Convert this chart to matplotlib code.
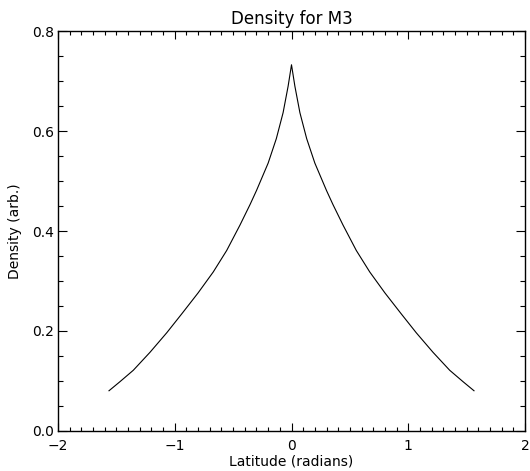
import matplotlib
matplotlib.use("Agg")
import matplotlib.pyplot as plt
from matplotlib.ticker import MultipleLocator

# values (left half, then right half)
lat_left = [-1.563, -1.47, -1.355, -1.212, -1.069, -0.94, -0.80, -0.67, -0.555,
            -0.441, -0.355, -0.30, -0.20, -0.13, -0.072, -0.029, 0.0]
dens_left = [0.080, 0.098, 0.121, 0.157, 0.196, 0.234, 0.276, 0.318, 0.361,
             0.412, 0.453, 0.481, 0.536, 0.585, 0.637, 0.690, 0.733]
lat_right = [0.029, 0.072, 0.13, 0.20, 0.30, 0.355, 0.441, 0.555,
             0.67, 0.80, 0.94, 1.069, 1.212, 1.355, 1.47, 1.563]
dens_right = [0.690, 0.637, 0.585, 0.536, 0.481, 0.453, 0.412, 0.361,
              0.318, 0.276, 0.234, 0.196, 0.157, 0.121, 0.098, 0.080]

lat = lat_left + lat_right
dens = dens_left + dens_right

plt.rcParams["font.family"] = ["DejaVu Sans"]
fig = plt.figure(figsize=(5.30, 4.71), dpi=100)
ax = fig.add_axes([0.1094, 0.0856, 0.8812, 0.8479])

ax.plot(lat, dens, color="black", lw=0.8)

ax.set_xlim(-2, 2)
ax.set_ylim(0, 0.8)
ax.xaxis.set_major_locator(MultipleLocator(1))
ax.xaxis.set_minor_locator(MultipleLocator(0.1))
ax.yaxis.set_major_locator(MultipleLocator(0.2))
ax.yaxis.set_minor_locator(MultipleLocator(0.05))
ax.xaxis.set_major_formatter(plt.FuncFormatter(lambda v, p: f"{v:.0f}".replace("-", "\u2212")))
ax.yaxis.set_major_formatter(plt.FuncFormatter(lambda v, p: f"{v:.1f}"))

ax.tick_params(axis="x", which="major", direction="in", length=5.8, width=0.8,
               top=True, labelsize=10, pad=6)
ax.tick_params(axis="x", which="minor", direction="in", length=2.9, width=0.8, top=True)
ax.tick_params(axis="y", which="major", direction="in", length=6.7, width=0.8,
               right=True, labelsize=10, pad=3)
ax.tick_params(axis="y", which="minor", direction="in", length=3.4, width=0.8, right=True)
for s in ax.spines.values():
    s.set_linewidth(1.0)

ax.set_title("Density for M3", fontsize=12, pad=5)
ax.set_xlabel("Latitude (radians)", fontsize=10, labelpad=1)
ax.set_ylabel("Density (arb.)", fontsize=10, labelpad=7)

fig.savefig("out.png", dpi=100)
